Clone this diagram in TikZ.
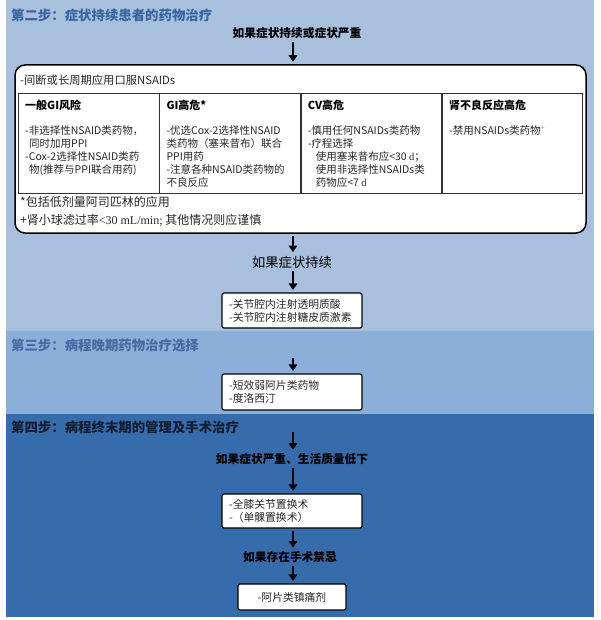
\documentclass[tikz,border=0pt]{standalone}
\usepackage{fontspec}
\setmainfont{Noto Sans CJK SC}
\newfontfamily\tms{Liberation Serif}
\usetikzlibrary{positioning,arrows.meta}
\definecolor{bandtwo}{RGB}{168,192,222}
\definecolor{bandthree}{RGB}{140,175,217}
\definecolor{bandfour}{RGB}{55,108,172}
\definecolor{titletwo}{RGB}{58,100,160}
\definecolor{titlethree}{RGB}{72,106,160}
\definecolor{titlefour}{RGB}{20,30,50}
\definecolor{boxtext}{RGB}{40,40,40}
\begin{document}
\begin{tikzpicture}[x=1pt,y=-1pt,
    steptitle/.style={anchor=west,inner sep=1pt,font=\fontsize{13.4}{15}\selectfont\bfseries},
    cond/.style={inner sep=1pt,font=\fontsize{11.7}{14}\selectfont\bfseries},
    txtbox/.style={draw,fill=white,line width=1.1pt,rounded corners=2pt,align=left,text width=126pt,
      inner xsep=7pt,minimum height=35pt,font=\fontsize{10.8}{13}\selectfont,text=boxtext},
    cell/.style={draw=black!80,line width=0.8pt,minimum width=140.5pt,minimum height=100pt,
      anchor=north west,inner sep=0pt},
    head/.style={anchor=north west,inner sep=1pt,font=\fontsize{11}{13}\selectfont\bfseries},
    body/.style={anchor=north west,inner sep=1pt,align=left,text=boxtext,font=\fontsize{10.5}{13}\selectfont},
    foot/.style={anchor=west,inner sep=1pt,text=boxtext,font=\fontsize{12}{14}\selectfont},
    arr/.style={line width=2.4pt,-{Triangle[width=8.5pt,length=6.5pt]},shorten <=2pt,shorten >=2.5pt}]
  \useasboundingbox (0,0) rectangle (600,620);
  \fill[white] (0,0) rectangle (600,620);
  \fill[bandtwo] (6,0) rectangle (594,331);
  \fill[bandthree] (6,331) rectangle (594,414);
  \fill[bandfour] (6,414) rectangle (594,617);

  \node[steptitle,text=titletwo] (steptwo) at (10,15) {第二步：症状持续患者的药物治疗};
  \node[steptitle,text=titlethree] (stepthree) at (10,345) {第三步：病程晚期药物治疗选择};
  \node[steptitle,text=titlefour] (stepfour) at (10,427) {第四步：病程终末期的管理及手术治疗};

  \node[cond] (severe) at (297,33) {如果症状持续或症状严重};
  \node[draw,fill=white,line width=1.5pt,rounded corners=10pt,minimum width=571pt,minimum height=168pt]
    (nsaid) at (300.5,149) {};
  \node[anchor=west,inner sep=1pt,text=boxtext,font=\fontsize{11.3}{13}\selectfont] (oral) at (19,80)
    {-间断或长周期应用口服NSAIDs};

  \begin{scope}[node distance=0pt]
    \node[cell] (gi) at (18,93) {};
    \node[cell,right=of gi] (gihigh) {};
    \node[cell,right=of gihigh] (cv) {};
    \node[cell,right=of cv] (renal) {};
  \end{scope}
  \node[head] (gihead) at ([shift={(6pt,-5.5pt)}]gi.north west) {一般GI风险};
  \node[head] (gihighhead) at ([shift={(6pt,-5.5pt)}]gihigh.north west) {GI高危*};
  \node[head] (cvhead) at ([shift={(6pt,-5.5pt)}]cv.north west) {CV高危};
  \node[head] (renalhead) at ([shift={(6pt,-5.5pt)}]renal.north west) {肾不良反应高危};
  \node[body] (gibody) at ([shift={(6pt,-31pt)}]gi.north west)
    {-非选择性NSAID类药物，\\\hspace*{4pt}同时加用PPI\\-Cox-2选择性NSAID类药\\\hspace*{4pt}物(推荐与PPI联合用药)};
  \node[body] (gihighbody) at ([shift={(6pt,-31pt)}]gihigh.north west)
    {-优选Cox-2选择性NSAID\\类药物（塞来昔布）联合\\PPI用药\\-注意各种NSAID类药物的\\不良反应};
  \node[body] (cvbody) at ([shift={(6pt,-31pt)}]cv.north west)
    {-慎用任何NSAIDs类药物\\-疗程选择\\\hspace*{8pt}使用塞来昔布应<30 {\tms d}；\\\hspace*{8pt}使用非选择性NSAIDs类\\\hspace*{8pt}药物应<7 {\tms d}};
  \node[body] (renalbody) at ([shift={(6pt,-31pt)}]renal.north west)
    {-禁用NSAIDs类药物\textcolor{black!40}{\textsuperscript{+}}};

  \node[foot] (aspirin) at (19,202) {*包括低剂量阿司匹林的应用};
  \node[foot] (gfr) at (19,220) {+肾小球滤过率{\tms <30 mL/min;} 其他情况则应谨慎};

  \node[inner sep=1pt,font=\fontsize{13.3}{15}\selectfont] (persist) at (292,262) {如果症状持续};
  \node[txtbox] (inject) at (292,310.5) {-关节腔内注射透明质酸\\-关节腔内注射糖皮质激素};
  \node[txtbox,minimum height=36pt] (late) at (292,392) {-短效弱阿片类药物\\-度洛西汀};
  \node[cond] (quality) at (292,459) {如果症状严重、生活质量低下};
  \node[txtbox,minimum height=34pt] (tka) at (292,511) {-全膝关节置换术\\-（单髁置换术）};
  \node[cond] (contra) at (290,557) {如果存在手术禁忌};
  \node[txtbox,text width=94pt,align=center,minimum height=26pt] (opioid) at (292,597) {-阿片类镇痛剂};

  \coordinate (axis) at (293,0);
  \coordinate (startthree) at (293,356);
  \coordinate (startfour) at (293,430);
  \draw[arr] (severe.south -| axis) -- (nsaid.north -| axis);
  \draw[arr] (nsaid.south -| axis) -- (persist.north -| axis);
  \draw[arr] (persist.south -| axis) -- (inject.north -| axis);
  \draw[arr] (startthree) -- (late.north -| axis);
  \draw[arr] (startfour) -- (quality.north -| axis);
  \draw[arr] (quality.south -| axis) -- (tka.north -| axis);
  \draw[arr] (tka.south -| axis) -- (contra.north -| axis);
  \draw[arr] (contra.south -| axis) -- (opioid.north -| axis);
\end{tikzpicture}
\end{document}
